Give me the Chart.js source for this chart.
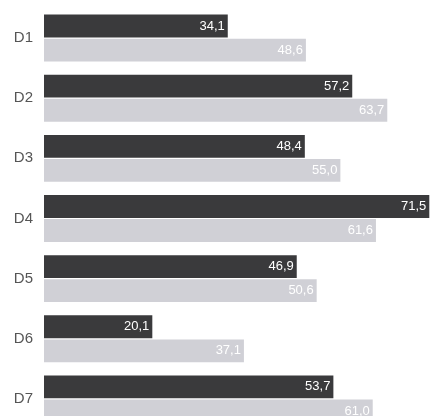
<!DOCTYPE html>
<html>
<head>
<meta charset="utf-8">
<script src="https://cdn.jsdelivr.net/npm/chart.js@4/dist/chart.umd.min.js"></script>
<style>
  html, body { margin: 0; padding: 0; background: #fff; overflow: hidden; }
  #wrap { position: absolute; left: 0; top: -12px; width: 434px; height: 461px; }
</style>
</head>
<body>
<div id="wrap"><canvas id="chart" width="434" height="461"></canvas></div>
<script>
/* values */
const categories = ["D1", "D2", "D3", "D4", "D5", "D6", "D7"];
const darkValues = [34.1, 57.2, 48.4, 71.5, 46.9, 20.1, 53.7];
const lightValues = [48.6, 63.7, 55.0, 61.6, 50.6, 37.1, 61.0];

/* writes the value at the end of each bar, decimal comma */
const valueLabels = {
  id: "valueLabels",
  afterDatasetsDraw(chart) {
    const ctx = chart.ctx;
    ctx.save();
    ctx.font = "13px 'Liberation Sans', Arial, sans-serif";
    ctx.fillStyle = "#ffffff";
    ctx.textAlign = "right";
    ctx.textBaseline = "middle";
    chart.data.datasets.forEach((ds, i) => {
      chart.getDatasetMeta(i).data.forEach((bar, j) => {
        const text = ds.data[j].toFixed(1).replace(".", ",");
        ctx.fillText(text, bar.x - 3, bar.y);
      });
    });
    ctx.restore();
  },
};

const config = {
  type: "bar",
  data: {
    labels: categories,
    datasets: [
      {
        label: "dark",
        data: darkValues,
        backgroundColor: "#3a3a3c",
        barPercentage: 0.95,
        categoryPercentage: 0.8,
      },
      {
        label: "light",
        data: lightValues,
        backgroundColor: "#d0d0d6",
        barPercentage: 0.95,
        categoryPercentage: 0.8,
      },
    ],
  },
  options: {
    indexAxis: "y",
    responsive: false,
    animation: false,
    layout: { padding: { top: 0, right: 2, bottom: 0, left: 0 } },
    plugins: {
      legend: { display: false },
      tooltip: { enabled: false },
    },
    scales: {
      x: {
        display: false,
        min: 0,
        max: 72,
      },
      y: {
        grid: { display: false, drawTicks: false },
        border: { display: false },
        afterFit(scale) {
          scale.width = 44;
        },
        ticks: {
          padding: 11,
          color: "#555",
          font: { family: "'Liberation Sans', Arial, sans-serif", size: 15 },
        },
      },
    },
  },
  plugins: [valueLabels],
};

const myChart = new Chart(document.getElementById("chart"), config);
</script>
</body>
</html>
